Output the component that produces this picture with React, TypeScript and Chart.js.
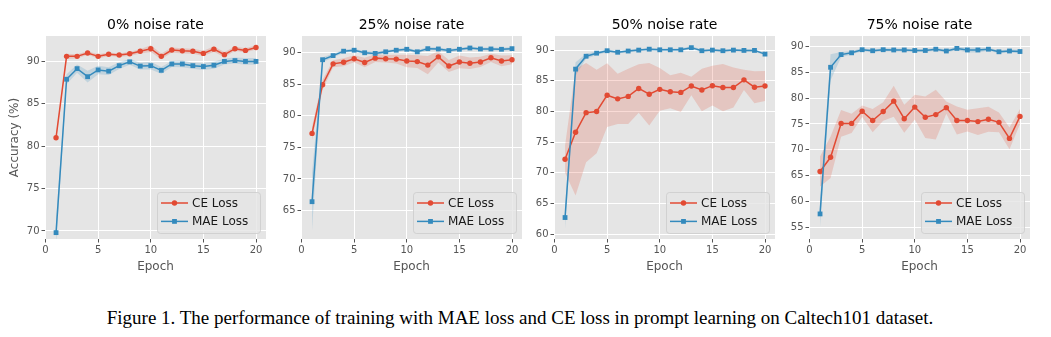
import React, { useEffect, useRef } from "react";
import { Chart, registerables } from "chart.js";

Chart.register(...registerables);

const FONT = "'DejaVu Sans', sans-serif";
const RED = "#E24A33";
const BLUE = "#348ABD";
const RED_FILL = "rgba(226,74,51,0.2)";
const BLUE_FILL = "rgba(52,138,189,0.2)";

const epochs = [1, 2, 3, 4, 5, 6, 7, 8, 9, 10, 11, 12, 13, 14, 15, 16, 17, 18, 19, 20];
const xTicks = [0, 5, 10, 15, 20];
const seriesNames = ["CE Loss", "MAE Loss"];
const titles = ["0% noise rate", "25% noise rate", "50% noise rate", "75% noise rate"];
const xLabel = "Epoch";
const yLabel = "Accuracy (%)";

// 0% noise
const ce0 = [81.0, 90.6, 90.6, 91.0, 90.6, 90.85, 90.75, 90.9, 91.2, 91.5, 90.6, 91.35, 91.25, 91.2, 90.95, 91.45, 90.8, 91.5, 91.3, 91.65];
const ce0Sd = [0.3, 0.3, 0.25, 0.2, 0.25, 0.2, 0.2, 0.25, 0.25, 0.4, 0.35, 0.3, 0.3, 0.3, 0.3, 0.3, 0.3, 0.25, 0.25, 0.25];
const mae0 = [69.8, 87.9, 89.15, 88.2, 89.0, 88.85, 89.5, 89.95, 89.45, 89.5, 88.95, 89.7, 89.7, 89.5, 89.4, 89.55, 90.0, 90.1, 90.0, 90.0];
const mae0Sd = [1.5, 0.6, 0.5, 0.7, 0.5, 0.45, 0.4, 0.35, 0.4, 0.45, 0.4, 0.35, 0.4, 0.35, 0.4, 0.4, 0.35, 0.35, 0.4, 0.4];
const yTicks0 = [70, 75, 80, 85, 90];

// 25% noise
const ce25 = [77.2, 84.9, 88.2, 88.45, 89.0, 88.4, 89.1, 89.0, 88.95, 88.65, 88.55, 88.0, 89.3, 87.85, 88.5, 88.3, 88.5, 89.15, 88.65, 88.85];
const ce25Sd = [1.0, 0.8, 0.55, 0.65, 0.55, 0.75, 0.6, 0.6, 0.7, 1.0, 1.0, 1.45, 0.9, 0.95, 1.0, 0.9, 0.8, 0.65, 0.85, 0.7];
const mae25 = [66.4, 88.85, 89.5, 90.2, 90.35, 89.95, 89.85, 90.1, 90.35, 90.5, 90.1, 90.6, 90.55, 90.3, 90.5, 90.7, 90.55, 90.55, 90.5, 90.6];
const mae25Sd = [4.5, 0.4, 0.3, 0.25, 0.25, 0.25, 0.25, 0.25, 0.25, 0.25, 0.25, 0.25, 0.25, 0.25, 0.25, 0.25, 0.25, 0.25, 0.25, 0.25];
const yTicks25 = [65, 70, 75, 80, 85, 90];

// 50% noise
const ce50 = [72.2, 76.6, 79.8, 80.0, 82.65, 82.05, 82.45, 83.75, 82.8, 83.6, 83.2, 83.1, 84.15, 83.5, 84.2, 83.9, 83.9, 85.15, 83.95, 84.15];
const ce50Sd = [2.2, 10.3, 8.1, 6.8, 5.2, 4.1, 4.5, 3.95, 5.1, 3.5, 2.7, 3.2, 1.5, 3.45, 3.25, 3.85, 3.25, 1.65, 2.6, 2.45];
const mae50 = [62.7, 86.9, 89.0, 89.5, 89.9, 89.65, 89.85, 90.0, 90.15, 90.05, 90.05, 90.05, 90.4, 89.9, 90.0, 89.9, 90.0, 89.95, 89.95, 89.35];
const mae50Sd = [1.8, 1.1, 0.4, 0.3, 0.25, 0.2, 0.2, 0.2, 0.2, 0.2, 0.2, 0.2, 0.25, 0.2, 0.2, 0.2, 0.2, 0.2, 0.2, 0.2];
const yTicks50 = [60, 65, 70, 75, 80, 85, 90];

// 75% noise
const ce75 = [65.8, 68.55, 75.1, 75.1, 77.45, 75.65, 77.4, 79.4, 76.0, 78.25, 76.3, 76.8, 78.15, 75.65, 75.65, 75.45, 75.9, 75.3, 72.2, 76.45];
const ce75Sd = [2.9, 4.0, 2.6, 1.85, 1.1, 2.25, 1.8, 3.0, 2.7, 2.4, 4.0, 4.8, 1.2, 2.7, 2.1, 2.6, 2.4, 1.9, 2.1, 1.45];
const mae75 = [57.6, 85.95, 88.4, 88.75, 89.35, 89.15, 89.35, 89.3, 89.3, 89.2, 89.2, 89.45, 89.1, 89.6, 89.3, 89.3, 89.45, 88.95, 89.1, 89.0];
const mae75Sd = [2.5, 2.5, 0.5, 0.35, 0.3, 0.3, 0.3, 0.3, 0.3, 0.3, 0.3, 0.3, 0.3, 0.3, 0.5, 0.5, 0.3, 0.3, 0.35, 0.35];
const yTicks75 = [55, 60, 65, 70, 75, 80, 85, 90];

const caption =
  "Figure 1. The performance of training with MAE loss and CE loss in prompt learning on Caltech101 dataset.";

type PanelCfg = {
  title: string;
  ce: number[];
  ceSd: number[];
  mae: number[];
  maeSd: number[];
  yTicks: number[];
  yMin: number;
  yMax: number;
  showY: boolean;
  left: number;
};

const panels: PanelCfg[] = [
  { title: titles[0], ce: ce0, ceSd: ce0Sd, mae: mae0, maeSd: mae0Sd, yTicks: yTicks0, yMin: 69.05, yMax: 93.0, showY: true, left: 0 },
  { title: titles[1], ce: ce25, ceSd: ce25Sd, mae: mae25, maeSd: mae25Sd, yTicks: yTicks25, yMin: 60.5, yMax: 92.6, showY: false, left: 256 },
  { title: titles[2], ce: ce50, ceSd: ce50Sd, mae: mae50, maeSd: mae50Sd, yTicks: yTicks50, yMin: 59.2, yMax: 92.3, showY: false, left: 509 },
  { title: titles[3], ce: ce75, ceSd: ce75Sd, mae: mae75, maeSd: mae75Sd, yTicks: yTicks75, yMin: 52.75, yMax: 92.0, showY: false, left: 764 },
];

const CW = 270;
const CH = 280;

const bgPlugin = {
  id: "plotBg",
  beforeDraw(chart: any) {
    const { ctx, chartArea: ca } = chart;
    ctx.save();
    ctx.fillStyle = "#E5E5E5";
    ctx.fillRect(ca.left, ca.top, ca.right - ca.left, ca.bottom - ca.top);
    ctx.restore();
  },
};

const legendPlugin = {
  id: "mplLegend",
  afterDraw(chart: any) {
    const { ctx, chartArea: ca } = chart;
    const w = 103;
    const h = 41;
    const x0 = Math.round(ca.right - 6 - w);
    const y0 = Math.round(ca.bottom - 6 - h);
    ctx.save();
    ctx.beginPath();
    ctx.roundRect(x0 + 0.5, y0 + 0.5, w, h, 3);
    ctx.fillStyle = "rgba(229,229,229,0.8)";
    ctx.fill();
    ctx.strokeStyle = "rgba(204,204,204,0.8)";
    ctx.lineWidth = 1;
    ctx.stroke();
    const colors = [RED, BLUE];
    const rows = [y0 + 11, y0 + 29.4];
    seriesNames.forEach((name, i) => {
      const y = rows[i];
      ctx.strokeStyle = colors[i];
      ctx.lineWidth = 1.5;
      ctx.beginPath();
      ctx.moveTo(x0 + 4, y);
      ctx.lineTo(x0 + 31, y);
      ctx.stroke();
      ctx.fillStyle = colors[i];
      const cx = x0 + 17.5;
      if (i === 0) {
        ctx.beginPath();
        ctx.arc(cx, y, 2.7, 0, Math.PI * 2);
        ctx.fill();
      } else {
        ctx.fillRect(cx - 2.4, y - 2.4, 4.8, 4.8);
      }
      ctx.fillStyle = "#1a1a1a";
      ctx.font = `12px ${FONT}`;
      ctx.textBaseline = "middle";
      ctx.textAlign = "left";
      ctx.fillText(name, x0 + 35, y + 0.5);
    });
    ctx.restore();
  },
};

function Panel({ cfg }: { cfg: PanelCfg }) {
  const ref = useRef<HTMLCanvasElement>(null);
  useEffect(() => {
    if (!ref.current) return;
    const pts = (vals: number[], sd: number[] | null, sign: number) =>
      epochs.map((e, i) => ({ x: e, y: vals[i] + (sd ? sign * sd[i] : 0) }));
    const series = [
      { name: seriesNames[0], mean: cfg.ce, sd: cfg.ceSd, color: RED, fillC: RED_FILL, style: "circle", r: 2.7, order: 1 },
      { name: seriesNames[1], mean: cfg.mae, sd: cfg.maeSd, color: BLUE, fillC: BLUE_FILL, style: "rect", r: 3.4, order: 0 },
    ];
    const datasets: any[] = [];
    series.forEach((s) => {
      datasets.push({ label: s.name + " hi", data: pts(s.mean, s.sd, 1), borderWidth: 0, pointRadius: 0, fill: false, order: 5 });
      datasets.push({ label: s.name + " lo", data: pts(s.mean, s.sd, -1), borderWidth: 0, pointRadius: 0, fill: "-1", backgroundColor: s.fillC, order: 5 });
    });
    series.forEach((s) => {
      datasets.push({
        label: s.name,
        data: pts(s.mean, null, 0),
        borderColor: s.color,
        backgroundColor: s.color,
        borderWidth: 1.5,
        pointStyle: s.style,
        pointRadius: s.r,
        pointBorderWidth: 0,
        pointBackgroundColor: s.color,
        fill: false,
        tension: 0,
        order: s.order,
      });
    });
    const chart = new Chart(ref.current, {
      type: "line",
      data: { datasets },
      plugins: [bgPlugin, legendPlugin],
      options: {
        animation: false,
        responsive: false,
        maintainAspectRatio: false,
        events: [],
        layout: { padding: { left: 0, right: 2, top: 0, bottom: 0 } },
        plugins: {
          legend: { display: false },
          tooltip: { enabled: false },
          title: {
            display: true,
            text: cfg.title,
            fullSize: false,
            color: "#000",
            font: { family: FONT, size: 14, weight: "normal", lineHeight: 1.2 },
            padding: { top: 16.6, bottom: 2.6 },
          },
        },
        scales: {
          x: {
            type: "linear",
            min: -0.05,
            max: 20.95,
            afterBuildTicks: (s: any) => {
              s.ticks = xTicks.map((v) => ({ value: v }));
            },
            afterFit: (s: any) => {
              s.height = CH - 239;
            },
            grid: { color: "#FFFFFF", lineWidth: 1, tickColor: "#555555", tickLength: 3.5, drawTicks: true },
            border: { display: false },
            ticks: { color: "#555555", font: { family: FONT, size: 10 }, padding: 2, maxRotation: 0, autoSkip: false },
            title: {
              display: true,
              text: xLabel,
              color: "#555555",
              font: { family: FONT, size: 12, lineHeight: 1.2 },
              padding: { top: 0, bottom: 5.8 },
            },
          },
          y: {
            type: "linear",
            min: cfg.yMin,
            max: cfg.yMax,
            afterBuildTicks: (s: any) => {
              s.ticks = cfg.yTicks.map((v) => ({ value: v }));
            },
            afterFit: (s: any) => {
              s.width = 45;
            },
            grid: { color: "#FFFFFF", lineWidth: 1, tickColor: "#555555", tickLength: 3.5, drawTicks: true },
            border: { display: false },
            ticks: { color: "#555555", font: { family: FONT, size: 10 }, padding: 2, autoSkip: false },
            title: {
              display: cfg.showY,
              text: yLabel,
              color: "#555555",
              font: { family: FONT, size: 12, lineHeight: 1.2 },
              padding: { top: 7.8, bottom: 0 },
            },
          },
        },
      } as any,
    });
    return () => chart.destroy();
  }, [cfg]);
  return (
    <canvas
      ref={ref}
      width={CW}
      height={CH}
      style={{ position: "absolute", left: cfg.left, top: 0, width: CW, height: CH, display: "block" }}
    />
  );
}

export default function App() {
  return (
    <div style={{ position: "absolute", left: 0, top: 0, width: 1051, height: 337, background: "#fff", overflow: "hidden" }}>
      {panels.map((p, i) => (
        <Panel key={i} cfg={p} />
      ))}
      <div
        style={{
          position: "absolute",
          left: 0,
          top: 308,
          width: 1040,
          textAlign: "center",
          fontFamily: "'Liberation Serif', 'Times New Roman', serif",
          fontSize: 19,
          lineHeight: "19px",
          color: "#000",
          whiteSpace: "nowrap",
        }}
      >
        {caption}
      </div>
    </div>
  );
}
